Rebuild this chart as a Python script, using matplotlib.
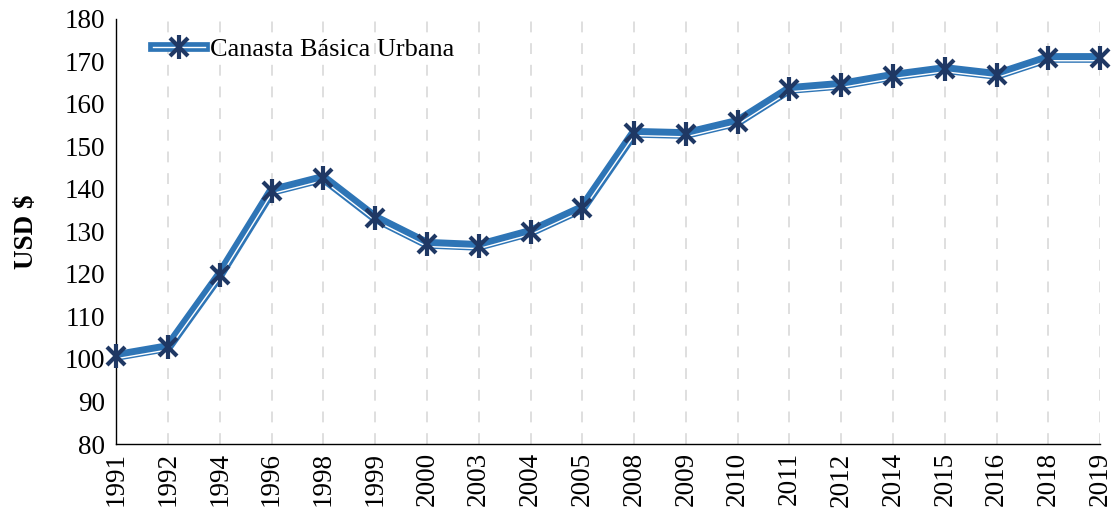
import matplotlib
matplotlib.use("Agg")
import matplotlib.pyplot as plt
import matplotlib.transforms as mtransforms
from matplotlib.lines import Line2D
from matplotlib.legend_handler import HandlerTuple

plt.rcParams['font.family'] = ['Liberation Serif', 'DejaVu Serif']

# Canasta básica urbana (USD)
years = ['1991', '1992', '1994', '1996', '1998', '1999', '2000', '2003', '2004', '2005',
         '2008', '2009', '2010', '2011', '2012', '2014', '2015', '2016', '2018', '2019']
values = [100.7, 102.8, 119.8, 139.5, 142.6, 133.2, 127.1, 126.6, 129.9, 135.5,
          153.2, 152.9, 155.8, 163.5, 164.5, 166.6, 168.2, 166.8, 170.8, 170.8]

blue = '#2E75B6'
navy = '#1F3864'

fig = plt.figure(figsize=(11.17, 5.16), dpi=100)
ax = fig.add_axes([0.104, 0.1395, 0.881, 0.824])

x = list(range(len(years)))

# vertical dashed gridlines
for xi in x[1:]:
    ax.axvline(xi, color='#dcdcdc', lw=1.3, ls=(0, (6, 6)), zorder=0)

# compound line: thick blue with thin white stripe near the bottom
ax.plot(x, values, color=blue, lw=7, solid_joinstyle='miter', zorder=2)
shift = mtransforms.offset_copy(ax.transData, fig=fig, x=0, y=-2.0, units='points')
ax.plot(x, values, color='white', lw=1.0, transform=shift, zorder=3)
# star marker = x + vertical bar
ax.plot(x, values, ls='none', marker='x', ms=13, mew=3, color=navy, zorder=4, clip_on=False)
ax.plot(x, values, ls='none', marker='|', ms=17, mew=3, color=navy, zorder=4, clip_on=False)

ax.set_xlim(0, 19)
ax.set_ylim(80, 180)
ax.set_yticks(range(80, 181, 10))
ax.set_xticks(x)
ax.set_xticklabels(years, rotation=90, fontsize=19.5)
ax.tick_params(axis='y', labelsize=19.5, length=0, pad=8)
ax.tick_params(axis='x', length=0, pad=6)
ax.set_ylabel('USD $', fontsize=19.5, fontweight='bold', labelpad=18)

for s in ['top', 'right']:
    ax.spines[s].set_visible(False)
for s in ['left', 'bottom']:
    ax.spines[s].set_linewidth(1.0)
    ax.spines[s].set_color('black')

h1 = Line2D([], [], color=blue, lw=7)
h2 = Line2D([], [], color='white', lw=1.0)
h3 = Line2D([], [], ls='none', marker='x', ms=13, mew=3, color=navy)
h4 = Line2D([], [], ls='none', marker='|', ms=17, mew=3, color=navy)
ax.legend([(h1, h2, h3, h4)], ['Canasta Básica Urbana'], handler_map={tuple: HandlerTuple(ndivide=1, pad=0)},
          loc='upper left', bbox_to_anchor=(0.013, 1.012), frameon=False, fontsize=19,
          handlelength=1.97, handletextpad=0.2)

fig.savefig('out.png', dpi=100)
